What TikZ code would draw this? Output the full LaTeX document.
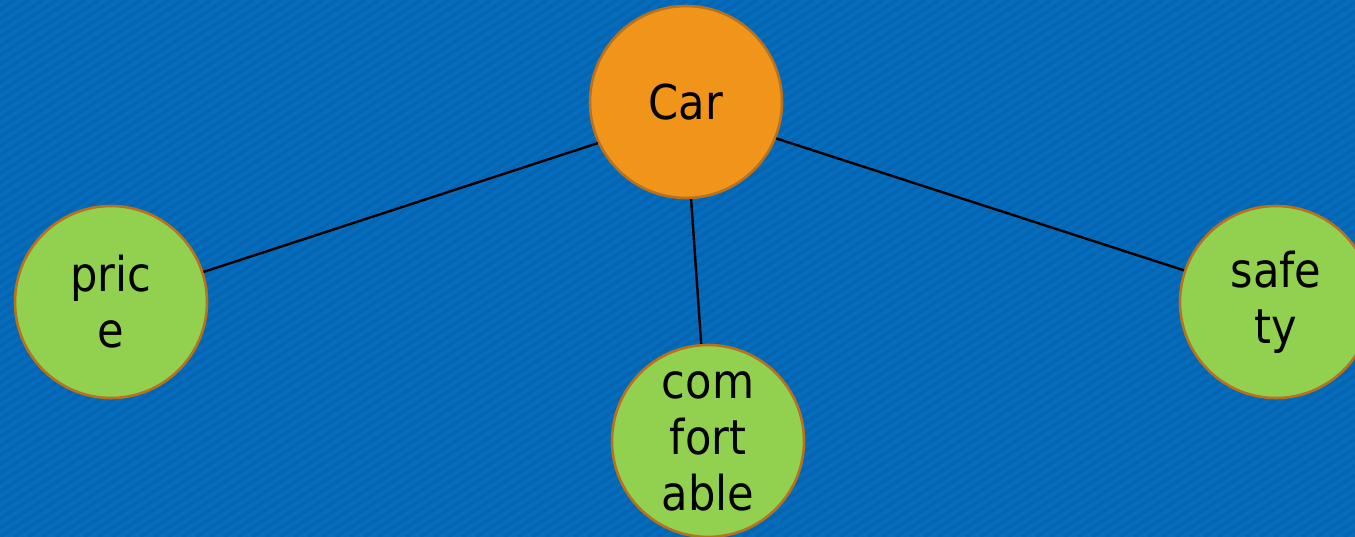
\documentclass[tikz,border=0pt]{standalone}
\usepackage{fontspec}
\setmainfont{DejaVu Sans Condensed}
\definecolor{bgblue}{HTML}{066CBC}
\definecolor{bgstripe}{HTML}{0465B2}
\definecolor{carorange}{HTML}{F0941A}
\definecolor{leafgreen}{HTML}{92D050}
\definecolor{rimbrown}{HTML}{B8711C}
\tikzset{
  bubble/.style={circle, draw=rimbrown, line width=2.6pt, minimum size=192pt,
    inner sep=0pt, align=center, text=black,
    font=\fontsize{48}{56}\selectfont},
  root/.style={bubble, fill=carorange},
  leaf/.style={bubble, fill=leafgreen},
  link/.style={black, line width=2.4pt}
}
\begin{document}
\begin{tikzpicture}[x=1pt, y=-1pt]
  % backdrop with fine diagonal hatching
  \fill[bgblue] (0,0) rectangle (1355,537);
  \useasboundingbox (0,0) rectangle (1355,537);
  \begin{scope}
    \clip (0,0) rectangle (1355,537);
    \foreach \s in {-840,-826,...,1360} {
      \draw[bgstripe, line width=3.5pt] (\s,537) -- ++(827,-537);
    }
  \end{scope}

  % concept nodes
  \node[root] (car)  at (686,102) {Car};
  \node[leaf] (price) at (111,302) {pric\\e};
  \node[leaf, text depth=-8pt] (comf)  at (708,441) {com\\fort\\able};
  \node[leaf] (safe)  at (1276,302) {safe\\ty};

  % links from the root
  \draw[link] (car.205) -- (price.18);
  \draw[link] (car.273) -- (comf.94);
  \draw[link] (car.338) -- (safe.161);
\end{tikzpicture}
\end{document}
